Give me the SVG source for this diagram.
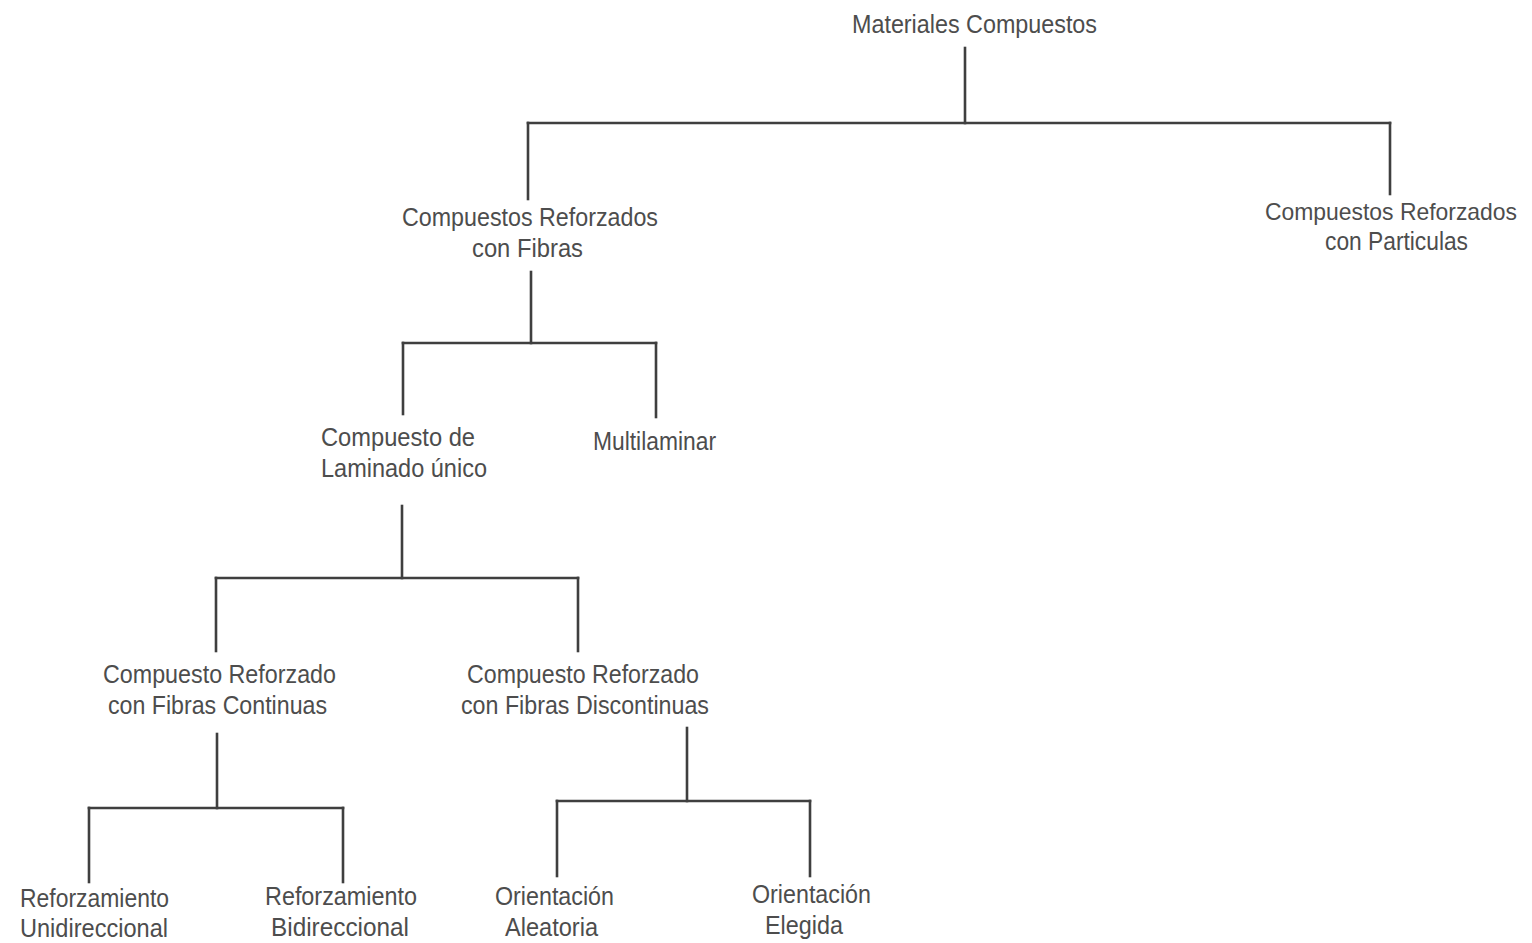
<svg xmlns="http://www.w3.org/2000/svg" width="1532" height="943" viewBox="0 0 1532 943">
<style>
text{font-family:"Liberation Sans",Arial,sans-serif;font-size:26px;fill:#4d4d4d;}
.conn line{stroke:#3f3f3f;stroke-width:2.6;stroke-linecap:square;}
</style>
<rect width="1532" height="943" fill="#ffffff"/>
<g id="connectors" class="conn">
<line x1="965" y1="48" x2="965" y2="123"/>
<line x1="528" y1="123" x2="1390" y2="123"/>
<line x1="528" y1="123" x2="528" y2="199"/>
<line x1="1390" y1="123" x2="1390" y2="194"/>
<line x1="531" y1="272" x2="531" y2="343"/>
<line x1="403" y1="343" x2="656" y2="343"/>
<line x1="403" y1="343" x2="403" y2="414"/>
<line x1="656" y1="343" x2="656" y2="417"/>
<line x1="402" y1="506" x2="402" y2="578"/>
<line x1="216" y1="578" x2="578" y2="578"/>
<line x1="216" y1="578" x2="216" y2="651"/>
<line x1="578" y1="578" x2="578" y2="651"/>
<line x1="217" y1="734" x2="217" y2="808"/>
<line x1="89" y1="808" x2="343" y2="808"/>
<line x1="89" y1="808" x2="89" y2="882"/>
<line x1="343" y1="808" x2="343" y2="882"/>
<line x1="687" y1="728" x2="687" y2="801"/>
<line x1="557" y1="801" x2="810" y2="801"/>
<line x1="557" y1="801" x2="557" y2="876"/>
<line x1="810" y1="801" x2="810" y2="876"/>
</g>
<g id="n-materiales"><text x="852" y="33" textLength="245" lengthAdjust="spacingAndGlyphs">Materiales Compuestos</text></g>
<g id="n-fibras">
<text x="402" y="226" textLength="256" lengthAdjust="spacingAndGlyphs">Compuestos Reforzados</text>
<text x="472" y="257" textLength="111" lengthAdjust="spacingAndGlyphs">con Fibras</text>
</g>
<g id="n-particulas">
<text x="1265" y="220" font-size="24" style="font-size:24px" textLength="252" lengthAdjust="spacingAndGlyphs">Compuestos Reforzados</text>
<text x="1325" y="250" textLength="143" lengthAdjust="spacingAndGlyphs">con Particulas</text>
</g>
<g id="n-laminado">
<text x="321" y="446" textLength="154" lengthAdjust="spacingAndGlyphs">Compuesto de</text>
<text x="321" y="477" textLength="166" lengthAdjust="spacingAndGlyphs">Laminado único</text>
</g>
<g id="n-multilaminar"><text x="593" y="450" textLength="123" lengthAdjust="spacingAndGlyphs">Multilaminar</text></g>
<g id="n-continuas">
<text x="103" y="683" textLength="233" lengthAdjust="spacingAndGlyphs">Compuesto Reforzado</text>
<text x="108" y="714" textLength="219" lengthAdjust="spacingAndGlyphs">con Fibras Continuas</text>
</g>
<g id="n-discontinuas">
<text x="467" y="683" textLength="232" lengthAdjust="spacingAndGlyphs">Compuesto Reforzado</text>
<text x="461" y="714" textLength="248" lengthAdjust="spacingAndGlyphs">con Fibras Discontinuas</text>
</g>
<g id="n-unidireccional">
<text x="20" y="907" textLength="149" lengthAdjust="spacingAndGlyphs">Reforzamiento</text>
<text x="20" y="937" textLength="148" lengthAdjust="spacingAndGlyphs">Unidireccional</text>
</g>
<g id="n-bidireccional">
<text x="265" y="905" textLength="152" lengthAdjust="spacingAndGlyphs">Reforzamiento</text>
<text x="271" y="936" textLength="138" lengthAdjust="spacingAndGlyphs">Bidireccional</text>
</g>
<g id="n-aleatoria">
<text x="495" y="905" textLength="119" lengthAdjust="spacingAndGlyphs">Orientación</text>
<text x="505" y="936" textLength="93" lengthAdjust="spacingAndGlyphs">Aleatoria</text>
</g>
<g id="n-elegida">
<text x="752" y="903" textLength="119" lengthAdjust="spacingAndGlyphs">Orientación</text>
<text x="765" y="934" textLength="78" lengthAdjust="spacingAndGlyphs">Elegida</text>
</g>
</svg>
